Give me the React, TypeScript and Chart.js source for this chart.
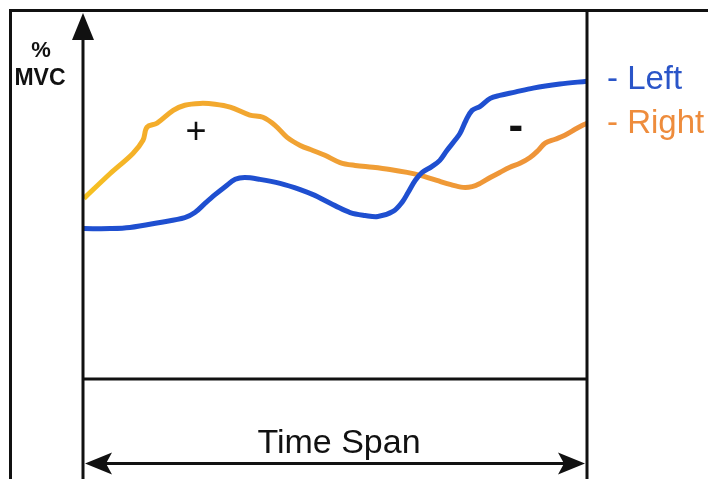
import React, { useEffect, useRef } from "react";
import { Chart, registerables } from "chart.js";

Chart.register(...registerables);

// Time (0–100 % of span) and %MVC (0–100 of plot height)
const timeLeft = [0.2, 5.4, 9.3, 15.3, 20.2, 22.2, 24.2, 26.2, 28.2, 30.2, 32.1, 35.1, 39.1, 43.1, 46.0, 48.0, 50.0, 53.0, 56.0, 58.5, 61.5, 63.3, 64.5, 65.9, 67.3, 69.2, 70.8, 72.2, 73.8, 74.8, 76.0, 77.2, 78.8, 80.8, 82.7, 85.7, 89.3, 94.6, 100];
const mvcLeft = [41.2, 41.2, 41.5, 42.9, 44.2, 45.6, 48.1, 50.5, 52.7, 54.7, 55.2, 54.7, 53.6, 51.9, 50.3, 48.9, 47.5, 45.6, 44.8, 44.5, 45.9, 48.4, 51.1, 54.4, 56.6, 58.2, 59.9, 62.6, 65.4, 67.3, 70.9, 73.6, 74.7, 76.9, 77.7, 78.6, 79.7, 80.8, 81.6];

const timeRight = [0.2, 5.4, 9.9, 11.9, 12.7, 14.7, 17.9, 20.2, 23.2, 26.2, 29.2, 33.1, 35.7, 38.1, 40.5, 43.1, 45.6, 48.0, 51.0, 54.0, 57.5, 60.9, 64.3, 66.9, 70.2, 72.8, 75.4, 77.2, 78.8, 80.8, 82.7, 84.7, 86.7, 88.7, 90.3, 91.7, 93.7, 95.6, 98.0, 100];
const mvcRight = [49.5, 56.3, 61.8, 65.4, 69.0, 70.1, 73.6, 75.0, 75.5, 75.3, 74.5, 72.3, 71.7, 69.5, 66.2, 64.0, 62.6, 61.3, 59.3, 58.5, 58.0, 57.4, 56.6, 55.8, 54.4, 53.3, 52.5, 52.7, 53.6, 55.2, 56.6, 58.0, 59.1, 60.7, 62.6, 64.6, 65.7, 66.8, 68.7, 70.1];

const seriesNames = ["- Left", "- Right"];
const yAxisTitle = ["%", "MVC"];
const xAxisTitle = "Time Span";
const phaseLabels = ["+", "-"];
const phaseTimes = [22.4, 85.9];
const phaseMvc = [67.5, 68.8];

const BLUE = "#1f4fd0";
const ORANGE = "#f0a035";
const FONT = "'Liberation Sans', Arial, sans-serif";

const decorPlugin = {
  id: "decor",
  afterDraw(chart: any) {
    const { ctx, chartArea, scales } = chart;
    const L = chartArea.left;
    const R = chartArea.right;
    const B = chartArea.bottom;
    const H = chart.height;
    const W = chart.width;
    ctx.save();
    ctx.strokeStyle = "#111";
    ctx.fillStyle = "#111";
    ctx.lineWidth = 3;
    // outer frame (top + left)
    ctx.beginPath();
    ctx.moveTo(9, 10.5);
    ctx.lineTo(W, 10.5);
    ctx.moveTo(10.5, 10);
    ctx.lineTo(10.5, H);
    ctx.stroke();
    // y axis line
    ctx.beginPath();
    ctx.moveTo(L, 36);
    ctx.lineTo(L, H);
    // right vertical
    ctx.moveTo(R, 10);
    ctx.lineTo(R, H);
    // x axis line
    ctx.moveTo(L, B);
    ctx.lineTo(R, B);
    ctx.stroke();
    // y arrow head
    ctx.beginPath();
    ctx.moveTo(L, 13);
    ctx.lineTo(L - 11, 40);
    ctx.lineTo(L + 11, 40);
    ctx.closePath();
    ctx.fill();
    // time span arrow
    const ay = 463.5;
    ctx.beginPath();
    ctx.moveTo(L + 20, ay);
    ctx.lineTo(R - 20, ay);
    ctx.stroke();
    ctx.beginPath();
    ctx.moveTo(L + 2, ay);
    ctx.lineTo(L + 29, ay - 11);
    ctx.lineTo(L + 23, ay);
    ctx.lineTo(L + 29, ay + 11);
    ctx.closePath();
    ctx.fill();
    ctx.beginPath();
    ctx.moveTo(R - 2, ay);
    ctx.lineTo(R - 29, ay - 11);
    ctx.lineTo(R - 23, ay);
    ctx.lineTo(R - 29, ay + 11);
    ctx.closePath();
    ctx.fill();

    // texts
    ctx.textBaseline = "alphabetic";
    ctx.textAlign = "center";
    ctx.font = `bold 22px ${FONT}`;
    ctx.fillText(yAxisTitle[0], 41, 57);
    ctx.font = `bold 23px ${FONT}`;
    ctx.fillText(yAxisTitle[1], 40, 85);

    ctx.font = `34px ${FONT}`;
    ctx.fillText(xAxisTitle, (258 + 420) / 2, 453);

    ctx.textBaseline = "middle";
    ctx.font = `36px ${FONT}`;
    ctx.fillText(phaseLabels[0], scales.x.getPixelForValue(phaseTimes[0]), scales.y.getPixelForValue(phaseMvc[0]));
    ctx.font = `bold 44px ${FONT}`;
    ctx.fillText(phaseLabels[1], scales.x.getPixelForValue(phaseTimes[1]), scales.y.getPixelForValue(phaseMvc[1]));

    // legend
    ctx.textAlign = "left";
    ctx.textBaseline = "alphabetic";
    ctx.font = `33px ${FONT}`;
    ctx.fillStyle = "#2a55c8";
    ctx.fillText(seriesNames[0], 607, 89);
    ctx.fillStyle = "#ee8c3c";
    ctx.fillText(seriesNames[1], 607, 133);
    ctx.restore();
  },
};

export default function App() {
  const ref = useRef<HTMLCanvasElement>(null);
  useEffect(() => {
    if (!ref.current) return;
    const chart = new Chart(ref.current, {
      type: "line",
      data: {
        datasets: [
          {
            label: seriesNames[0],
            data: timeLeft.map((t, i) => ({ x: t, y: mvcLeft[i] })),
            borderColor: BLUE,
            borderWidth: 5,
            pointRadius: 0,
            tension: 0.35,
            fill: false,
          },
          {
            label: seriesNames[1],
            data: timeRight.map((t, i) => ({ x: t, y: mvcRight[i] })),
            borderColor: (c: any) => {
              const area = c.chart.chartArea;
              if (!area) return ORANGE;
              const g = c.chart.ctx.createLinearGradient(area.left, 0, area.right, 0);
              g.addColorStop(0, "#f6c321");
              g.addColorStop(0.12, "#f4ae2a");
              g.addColorStop(0.5, "#f0a035");
              g.addColorStop(1, "#ee9139");
              return g;
            },
            borderWidth: 5,
            pointRadius: 0,
            tension: 0.35,
            fill: false,
          },
        ],
      },
      options: {
        animation: false,
        responsive: false,
        devicePixelRatio: 1,
        layout: { padding: { left: 83, right: 121, top: 14, bottom: 100 } },
        scales: {
          x: { type: "linear", min: 0, max: 100, display: false },
          y: { type: "linear", min: 0, max: 100, display: false },
        },
        plugins: { legend: { display: false }, tooltip: { enabled: false } },
      },
      plugins: [decorPlugin],
    });
    return () => chart.destroy();
  }, []);
  return (
    <div style={{ position: "fixed", left: 0, top: 0, width: 708, height: 479, background: "#fff" }}>
      <canvas ref={ref} width={708} height={479} />
    </div>
  );
}
